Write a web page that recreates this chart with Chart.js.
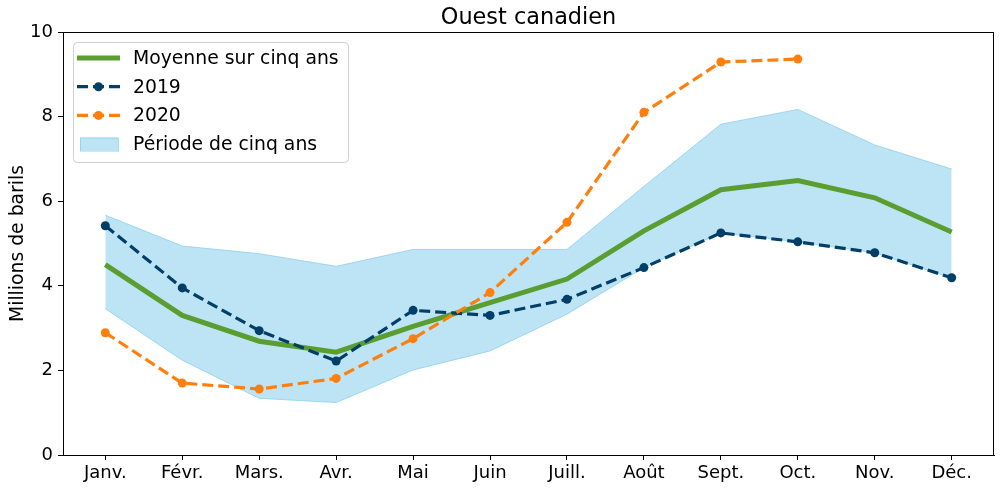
<!DOCTYPE html>
<html>
<head>
<meta charset="utf-8">
<script src="https://cdn.jsdelivr.net/npm/chart.js@4/dist/chart.umd.min.js"></script>
<style>
  body { margin:0; background:#fff; }
  #wrap { width:1001px; height:490px; }
</style>
</head>
<body>
<div id="wrap"><canvas id="c" width="1001" height="490"></canvas></div>
<script>
const months = ['Janv.','Févr.','Mars.','Avr.','Mai','Juin','Juill.','Août','Sept.','Oct.','Nov.','Déc.'];
const avg5 = [4.50, 3.30, 2.69, 2.43, 3.04, 3.60, 4.16, 5.30, 6.27, 6.49, 6.08, 5.27];
const y2019 = [5.42, 3.95, 2.94, 2.22, 3.42, 3.30, 3.68, 4.43, 5.25, 5.04, 4.78, 4.19];
const y2020 = [2.89, 1.70, 1.56, 1.81, 2.75, 3.84, 5.50, 8.10, 9.29, 9.36, null, null];
const bandHigh = [5.67, 4.94, 4.76, 4.46, 4.86, 4.86, 4.86, 6.35, 7.82, 8.17, 7.33, 6.76];
const bandLow = [3.46, 2.24, 1.34, 1.24, 2.01, 2.46, 3.33, 4.43, 5.25, 5.04, 4.78, 4.19];
const yTicks = [0, 2, 4, 6, 8, 10];

const FONT = 'DejaVu Sans';
const GREEN = '#5a9e32', NAVY = '#013f68', ORANGE = '#ff7f0e';
const BAND = 'rgba(135,206,235,0.55)', BAND_EDGE = 'rgba(135,206,235,0.75)';

const pts = arr => arr.map((v, i) => ({ x: i, y: v }));

// matplotlib-like frame, title and legend
const extras = {
  id: 'extras',
  afterDraw(chart) {
    const { ctx, chartArea: a } = chart;
    ctx.save();
    ctx.strokeStyle = '#000';
    ctx.lineWidth = 1;
    ctx.strokeRect(a.left + 0.5, a.top + 0.5, a.right - a.left - 1, a.bottom - a.top);

    ctx.fillStyle = '#000';
    ctx.font = `22.4px "${FONT}"`;
    ctx.textAlign = 'center';
    ctx.textBaseline = 'middle';
    ctx.fillText('Ouest canadien', (a.left + a.right) / 2, 18);

    // legend
    const lx = a.left + 10, ly = a.top + 10, lw = 275, lh = 120;
    ctx.fillStyle = 'rgba(255,255,255,0.8)';
    ctx.strokeStyle = '#d0d0d0';
    ctx.beginPath();
    ctx.roundRect(lx + 0.5, ly + 0.5, lw, lh, 4);
    ctx.fill();
    ctx.stroke();

    const rows = [
      { label: 'Moyenne sur cinq ans', kind: 'solid', color: GREEN },
      { label: '2019', kind: 'dash', color: NAVY },
      { label: '2020', kind: 'dash', color: ORANGE },
      { label: 'Période de cinq ans', kind: 'patch' }
    ];
    const hx0 = lx + 4, hx1 = lx + 47;
    rows.forEach((r, i) => {
      const cy = ly + 16 + i * 28.7;
      if (r.kind === 'solid') {
        ctx.strokeStyle = r.color; ctx.lineWidth = 5; ctx.setLineDash([]);
        ctx.beginPath(); ctx.moveTo(hx0, cy); ctx.lineTo(hx1, cy); ctx.stroke();
      } else if (r.kind === 'dash') {
        ctx.strokeStyle = r.color; ctx.lineWidth = 3.2; ctx.setLineDash([11, 5]);
        ctx.beginPath(); ctx.moveTo(hx0, cy); ctx.lineTo(hx1, cy); ctx.stroke();
        ctx.setLineDash([]);
        ctx.fillStyle = r.color;
        ctx.beginPath(); ctx.arc((hx0 + hx1) / 2, cy, 4.5, 0, Math.PI * 2); ctx.fill();
      } else {
        ctx.fillStyle = BAND; ctx.strokeStyle = BAND_EDGE; ctx.lineWidth = 1;
        ctx.fillRect(hx0 + 3, cy - 6.5, 38, 13);
        ctx.strokeRect(hx0 + 3.5, cy - 6, 38, 13);
      }
      ctx.fillStyle = '#000';
      ctx.font = `18.8px "${FONT}"`;
      ctx.textAlign = 'left';
      ctx.textBaseline = 'middle';
      ctx.fillText(r.label, lx + 60, cy + 1);
    });
    ctx.restore();
  }
};

new Chart(document.getElementById('c'), {
  type: 'line',
  data: {
    datasets: [
      { label: 'bas', order: 5, data: pts(bandLow), borderColor: BAND_EDGE, borderWidth: 1, pointRadius: 0, fill: false, tension: 0 },
      { label: 'Période de cinq ans', order: 4, data: pts(bandHigh), borderColor: BAND_EDGE, borderWidth: 1, pointRadius: 0, backgroundColor: BAND, fill: '-1', tension: 0 },
      { label: 'Moyenne sur cinq ans', order: 3, data: pts(avg5), borderColor: GREEN, borderWidth: 5, pointRadius: 0, fill: false, tension: 0 },
      { label: '2019', order: 2, data: pts(y2019), borderColor: NAVY, backgroundColor: NAVY, borderWidth: 3.2, borderDash: [11, 5], pointRadius: 4.5, pointBorderWidth: 0, fill: false, tension: 0 },
      { label: '2020', order: 1, data: pts(y2020), borderColor: ORANGE, backgroundColor: ORANGE, borderWidth: 3.2, borderDash: [11, 5], pointRadius: 4.5, pointBorderWidth: 0, fill: false, tension: 0 }
    ]
  },
  options: {
    responsive: false,
    animation: false,
    devicePixelRatio: 1,
    layout: { padding: { top: 32, right: 7, left: 0, bottom: 0 } },
    plugins: {
      legend: { display: false }, title: { display: false }, tooltip: { enabled: false },
      filler: { drawTime: 'beforeDatasetsDraw' }
    },
    scales: {
      x: {
        type: 'linear', min: -0.55, max: 11.55,
        afterBuildTicks: s => { s.ticks = months.map((m, i) => ({ value: i })); },
        afterFit: s => { s.height = 35; },
        grid: { display: true, drawOnChartArea: false, drawTicks: true, tickLength: 5, color: '#000' },
        border: { display: true, color: '#000', width: 1 },
        ticks: { color: '#000', font: { family: FONT, size: 18 }, padding: 3, maxRotation: 0, autoSkip: false,
                 callback: v => months[v] }
      },
      y: {
        type: 'linear', min: 0, max: 10,
        afterBuildTicks: s => { s.ticks = yTicks.map(v => ({ value: v })); },
        afterFit: s => { s.width = 63; },
        grid: { display: true, drawOnChartArea: false, drawTicks: true, tickLength: 5, color: '#000' },
        border: { display: true, color: '#000', width: 1 },
        ticks: { color: '#000', font: { family: FONT, size: 18 }, padding: 5 },
        title: { display: true, text: 'Millions de barils', color: '#000', font: { family: FONT, size: 18.8 }, padding: { top: 7, bottom: 0 } }
      }
    }
  },
  plugins: [extras]
});
</script>
</body>
</html>
